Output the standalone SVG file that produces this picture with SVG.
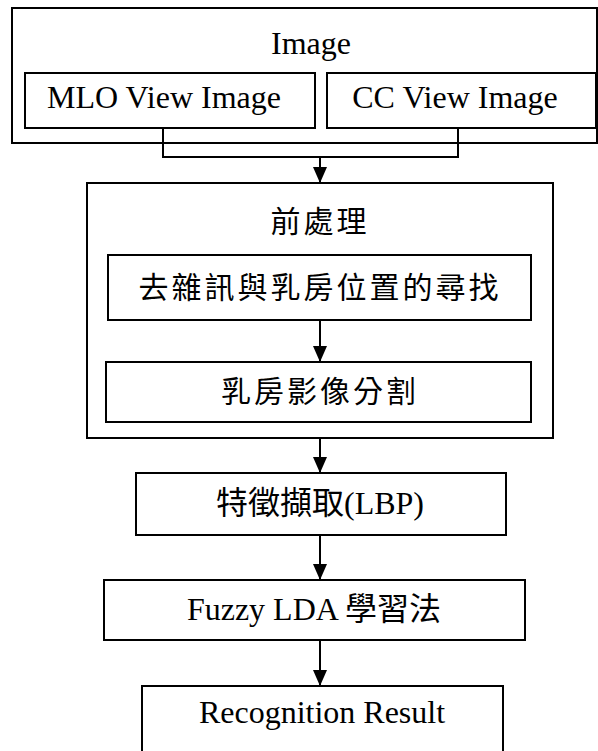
<svg xmlns="http://www.w3.org/2000/svg" width="598" height="751" viewBox="0 0 598 751">
<style>
.box{fill:#fff;stroke:#000;stroke-width:2}
.t{font-family:"Liberation Serif","Noto Sans CJK TC",serif;font-size:32px;fill:#000;text-anchor:middle;dominant-baseline:central}
.c{font-size:30px;letter-spacing:3px}
.ln{fill:none;stroke:#000;stroke-width:2}
</style>
<defs>
<marker id="ah" markerWidth="16" markerHeight="14" refX="16" refY="7" orient="auto" markerUnits="userSpaceOnUse"><path d="M0,0 L16,7 L0,14 Z" fill="#000"/></marker>
</defs>
<g id="image">
<rect class="box" x="12" y="8" width="585" height="135"/>
<text class="t" x="311" y="43">Image</text>
</g>
<g id="mlo">
<rect class="box" x="25" y="73" width="290" height="55"/>
<text class="t" x="164" y="97">MLO View Image</text>
</g>
<g id="cc">
<rect class="box" x="327" y="73" width="269" height="55"/>
<text class="t" x="455" y="97">CC View Image</text>
</g>
<g id="pre">
<rect class="box" x="87" y="183" width="466" height="255"/>
<text class="t c" x="320" y="221">前處理</text>
</g>
<g id="denoise">
<rect class="box" x="108" y="255" width="423" height="65"/>
<text class="t c" x="320" y="287">去雜訊與乳房位置的尋找</text>
</g>
<g id="seg">
<rect class="box" x="106" y="362" width="425" height="60"/>
<text class="t c" x="320" y="391">乳房影像分割</text>
</g>
<g id="feat">
<rect class="box" x="136" y="473" width="370" height="62"/>
<text class="t" x="320" y="503">特徵擷取(LBP)</text>
</g>
<g id="lda">
<rect class="box" x="104" y="580" width="421" height="60"/>
<text class="t" x="314" y="609">Fuzzy LDA 學習法</text>
</g>
<g id="result">
<rect class="box" x="142" y="686" width="361" height="70"/>
<text class="t" x="322" y="712">Recognition Result</text>
</g>
<g id="connectors">
<path class="ln" d="M163,128 V157 H458 V128"/>
<line class="ln" x1="320" y1="157" x2="320" y2="183" marker-end="url(#ah)"/>
<line class="ln" x1="320" y1="320" x2="320" y2="362" marker-end="url(#ah)"/>
<line class="ln" x1="320" y1="438" x2="320" y2="473" marker-end="url(#ah)"/>
<line class="ln" x1="320" y1="535" x2="320" y2="580" marker-end="url(#ah)"/>
<line class="ln" x1="320" y1="640" x2="320" y2="686" marker-end="url(#ah)"/>
</g>
</svg>
